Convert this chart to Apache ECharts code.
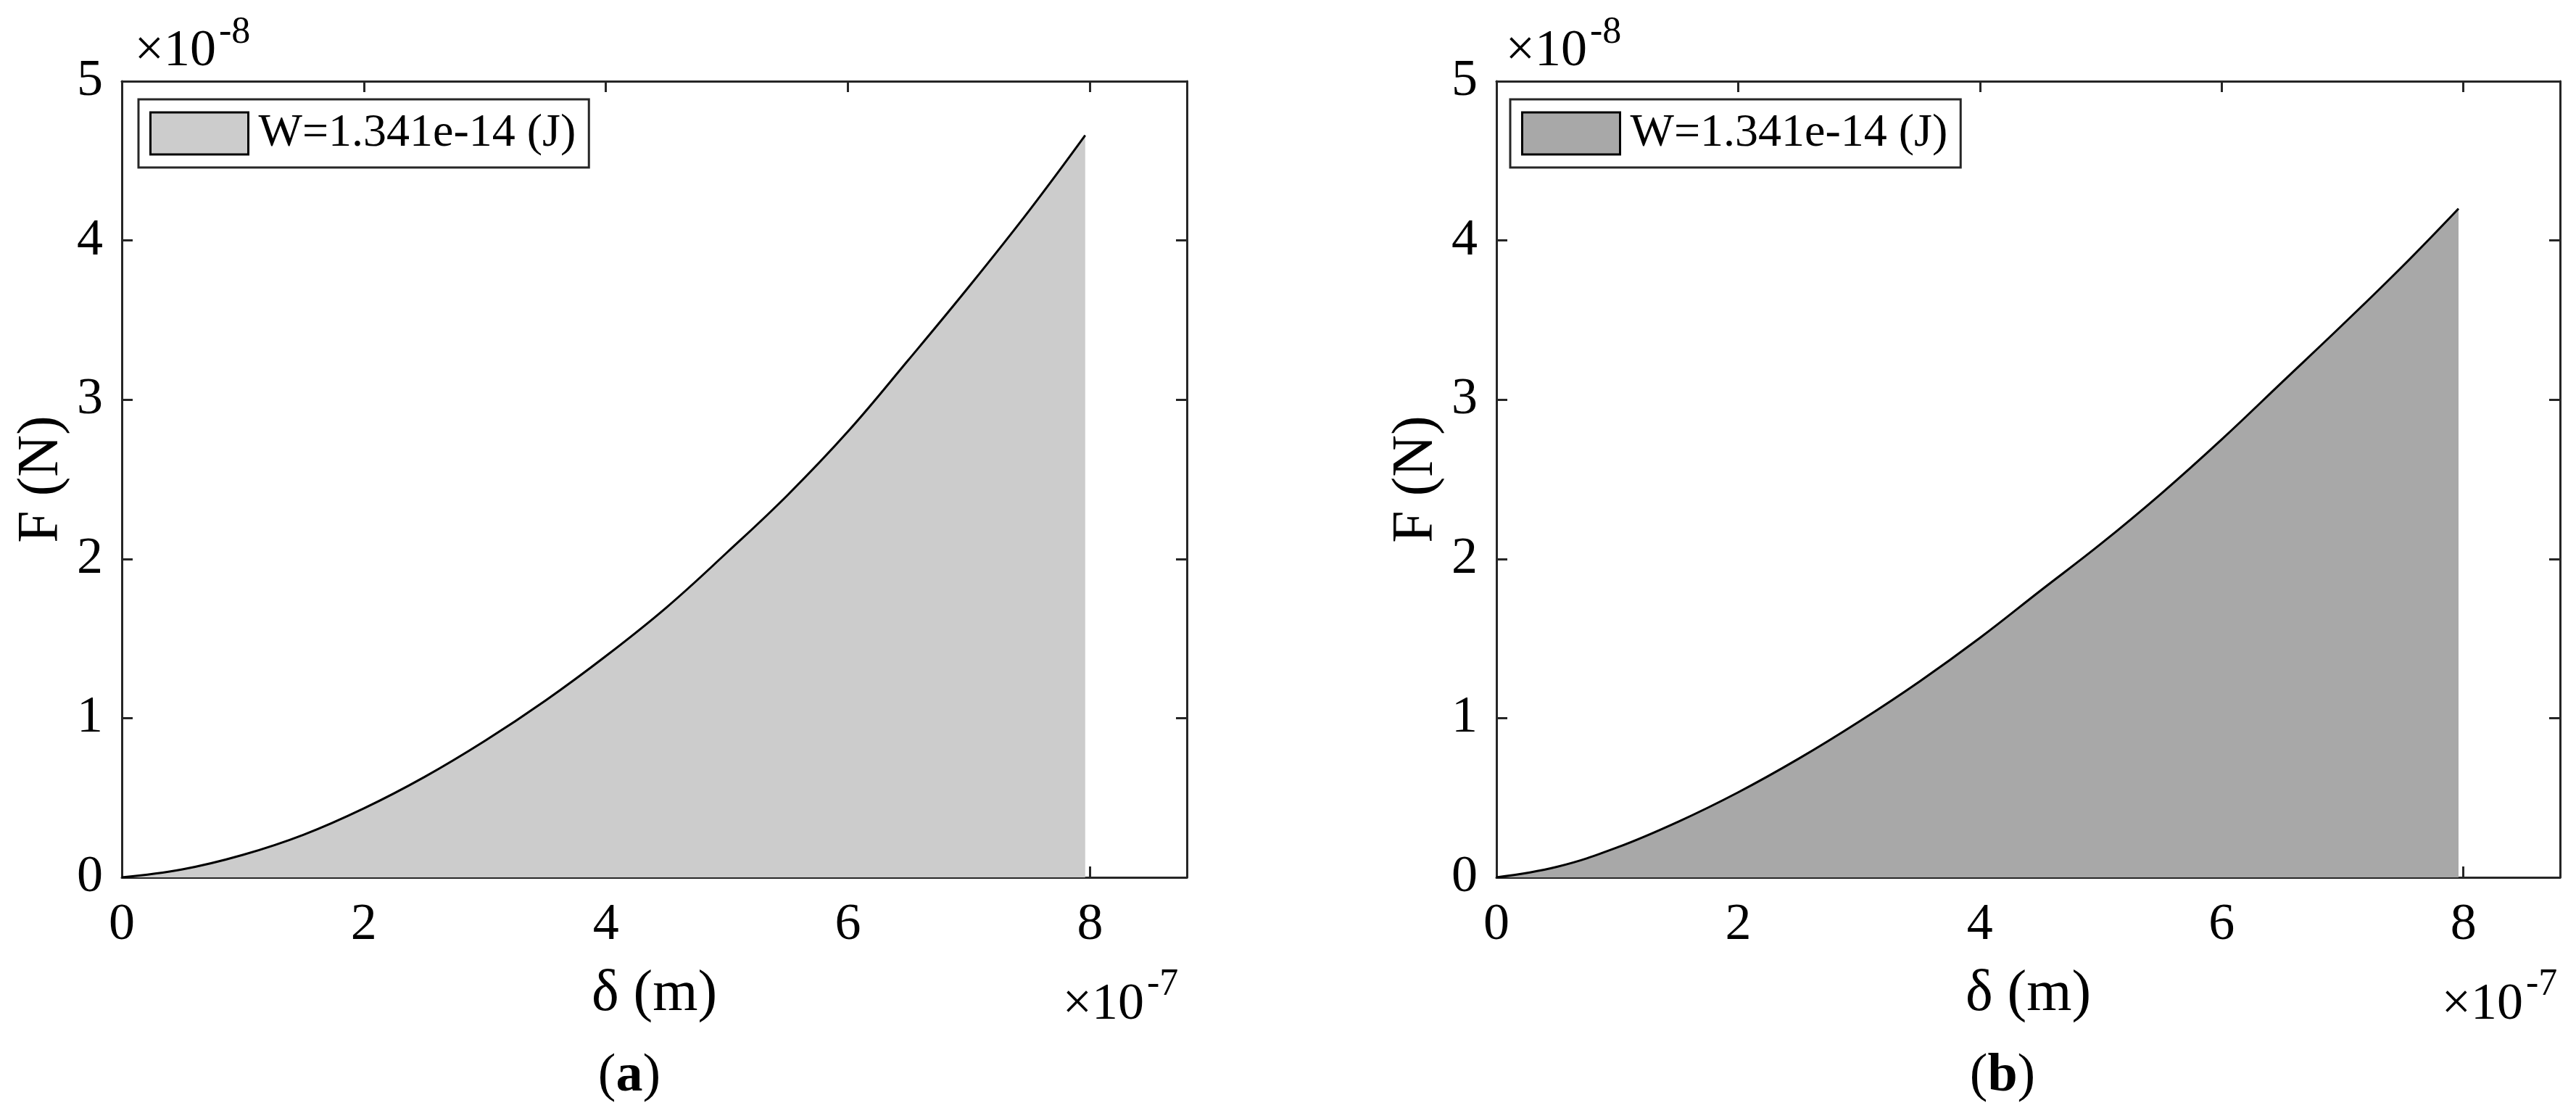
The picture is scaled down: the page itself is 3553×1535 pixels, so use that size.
<!DOCTYPE html>
<html>
<head>
<meta charset="utf-8">
<title>F - delta</title>
<script src="https://cdn.jsdelivr.net/npm/echarts@6/dist/echarts.min.js"></script>
<style>
  html, body { margin: 0; padding: 0; background: #fff; }
  #chart { width: 3553px; height: 1535px; }
</style>
</head>
<body>
<div id="chart"></div>
<script>
// δ in units of 1e-7 m, F in units of 1e-8 N
const deltaA = [0, 0.5, 1, 1.5, 2, 2.5, 3, 3.5, 4, 4.5, 5, 5.5, 6, 6.5, 7, 7.5, 7.96];
const forceA = [0, 0.05, 0.141, 0.267, 0.433, 0.63, 0.857, 1.11, 1.39, 1.695, 2.04, 2.40, 2.80, 3.25, 3.71, 4.19, 4.66];
const deltaB = [0, 0.5, 1, 1.5, 2, 2.5, 3, 3.5, 4, 4.5, 5, 5.5, 6, 6.5, 7, 7.5, 7.96];
const forceB = [0, 0.066, 0.188, 0.348, 0.534, 0.745, 0.978, 1.23, 1.504, 1.80, 2.094, 2.41, 2.75, 3.11, 3.47, 3.84, 4.20];
const xTicks = [0, 2, 4, 6, 8];
const yTicks = [0, 1, 2, 3, 4, 5];
const legendName = "W=1.341e-14 (J)";
const panelLetters = ["a", "b"];

const FONT = "Liberation Serif";
const AXIS_COLOR = "#262626";

const chart = echarts.init(document.getElementById("chart"));

// one panel = one grid with a box of four axes (ticks inside)
function xAxes(gridIndex) {
  const base = {
    gridIndex: gridIndex,
    type: "value",
    min: 0,
    max: 8.8,
    interval: 2,
    axisLine: { show: true, onZero: false, lineStyle: { color: AXIS_COLOR, width: 3 } },
    axisTick: { show: true, inside: true, length: 15, lineStyle: { color: AXIS_COLOR, width: 3 } },
    splitLine: { show: false },
  };
  return [
    Object.assign({}, base, {
      position: "bottom",
      axisLabel: {
        margin: 30, fontSize: 72, fontFamily: FONT, color: "#000", showMaxLabel: false,
        formatter: (v) => (xTicks.includes(v) ? String(v) : ""),
      },
      name: "δ (m)",
      nameLocation: "middle",
      nameGap: 122,
      nameTextStyle: { fontSize: 80, fontFamily: FONT, color: "#000" },
    }),
    Object.assign({}, base, { position: "top", axisLabel: { show: false } }),
  ];
}

function yAxes(gridIndex) {
  const base = {
    gridIndex: gridIndex,
    type: "value",
    min: 0,
    max: 5,
    interval: 1,
    axisLine: { show: true, onZero: false, lineStyle: { color: AXIS_COLOR, width: 3 } },
    axisTick: { show: true, inside: true, length: 15, lineStyle: { color: AXIS_COLOR, width: 3 } },
    splitLine: { show: false },
  };
  return [
    Object.assign({}, base, {
      position: "left",
      axisLabel: {
        margin: 26, fontSize: 72, fontFamily: FONT, color: "#000",
        formatter: (v) => (yTicks.includes(v) ? String(v) : ""),
      },
      name: "F (N)",
      nameLocation: "middle",
      nameGap: 70,
      nameTextStyle: { fontSize: 80, fontFamily: FONT, color: "#000" },
    }),
    Object.assign({}, base, { position: "right", axisLabel: { show: false } }),
  ];
}

function legendFor(left, fill) {
  return {
    left: left,
    top: 137,
    orient: "horizontal",
    selectedMode: false,
    data: [{ name: legendName, icon: "rect", itemStyle: { color: fill, borderColor: "#000", borderWidth: 3 } }],
    itemWidth: 135,
    itemHeight: 58,
    padding: [15, 18, 15, 15],
    borderColor: AXIS_COLOR,
    borderWidth: 3,
    backgroundColor: "#fff",
    textStyle: { fontSize: 64, fontFamily: FONT, color: "#000", lineHeight: 58, padding: [0, 0, 0, 9] },
  };
}

function curve(xs, ys, axisIdx, fill) {
  return {
    name: legendName,
    type: "line",
    xAxisIndex: axisIdx,
    yAxisIndex: axisIdx,
    data: xs.map((x, i) => [x, ys[i]]),
    showSymbol: false,
    smooth: 0.4,
    lineStyle: { color: "#000", width: 3 },
    itemStyle: { color: fill },
    areaStyle: { color: fill, opacity: 1 },
    z: 2,
  };
}

function txt(x, y, text, size, align) {
  return {
    type: "text",
    x: x,
    y: y,
    style: {
      text: text, fontSize: size, fontFamily: FONT, fill: "#000",
      align: align || "left", verticalAlign: "middle",
    },
  };
}

function panelLabel(x, letter) {
  return {
    type: "text",
    x: x,
    y: 1485,
    style: {
      text: "{p|(}{b|" + letter + "}{p|)}",
      align: "center",
      verticalAlign: "middle",
      rich: {
        p: { fontSize: 74, fontFamily: FONT, fill: "#000" },
        b: { fontSize: 74, fontFamily: FONT, fontWeight: "bold", fill: "#000" },
      },
    },
  };
}

const option = {
  backgroundColor: "#fff",
  animation: false,
  grid: [
    { left: 168, top: 112, width: 1469, height: 1098 },
    { left: 2064, top: 112, width: 1467, height: 1098 },
  ],
  xAxis: xAxes(0).concat(xAxes(1)),
  yAxis: yAxes(0).concat(yAxes(1)),
  legend: [legendFor(191, "#cccccc"), legendFor(2083, "#a8a8a8")],
  series: [
    curve(deltaA, forceA, 0, "#cccccc"),
    curve(deltaB, forceB, 2, "#a8a8a8"),
  ],
  graphic: [
    txt(298, 71, "×10", 72, "right"),
    txt(302, 45, "-8", 52),
    txt(2189, 71, "×10", 72, "right"),
    txt(2193, 45, "-8", 52),
    txt(1578, 1386, "×10", 72, "right"),
    txt(1582, 1358, "-7", 52),
    txt(3480, 1386, "×10", 72, "right"),
    txt(3484, 1358, "-7", 52),
    panelLabel(868, panelLetters[0]),
    panelLabel(2762, panelLetters[1]),
  ],
};

chart.setOption(option);
</script>
</body>
</html>
